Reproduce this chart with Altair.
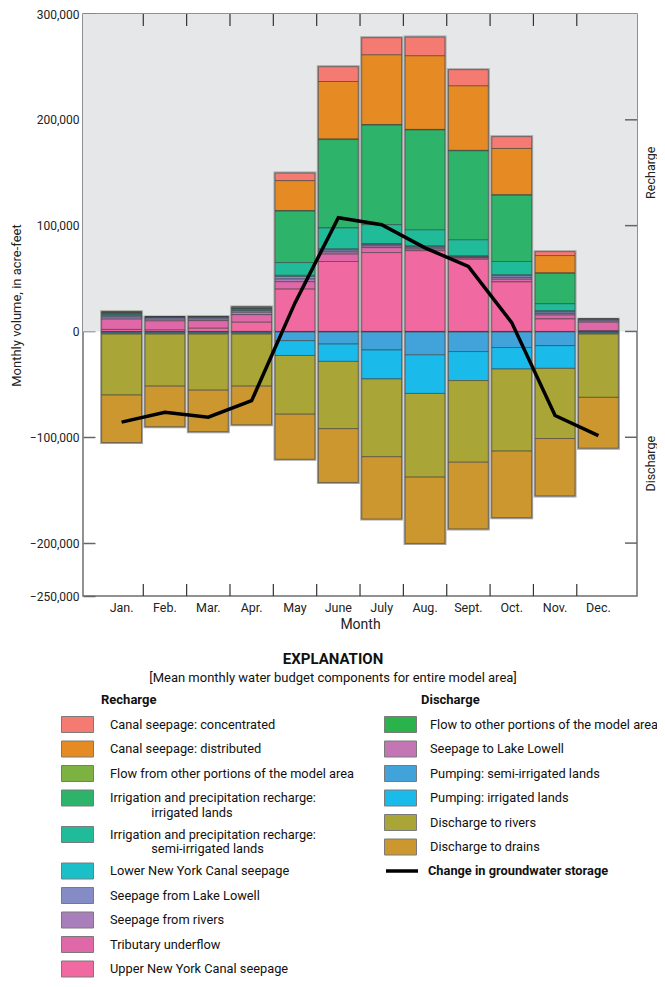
import altair as alt
import pandas as pd

FONT = "Roboto, Liberation Sans, sans-serif"

months = ["Jan.", "Feb.", "Mar.", "Apr.", "May", "June", "July", "Aug.", "Sept.", "Oct.", "Nov.", "Dec."]

recharge_names = [
    "Canal seepage: concentrated",
    "Canal seepage: distributed",
    "Flow from other portions of the model area",
    "Irrigation and precipitation recharge: irrigated lands",
    "Irrigation and precipitation recharge: semi-irrigated lands",
    "Lower New York Canal seepage",
    "Seepage from Lake Lowell",
    "Seepage from rivers",
    "Tributary underflow",
    "Upper New York Canal seepage",
]
recharge_colors = ["#f47a72", "#e68a23", "#7cb241", "#2eb46a", "#20bb98",
                   "#1bbfc7", "#858bc5", "#a97fbb", "#de68a8", "#f06aa1"]

discharge_names = [
    "Flow to other portions of the model area",
    "Seepage to Lake Lowell",
    "Pumping: semi-irrigated lands",
    "Pumping: irrigated lands",
    "Discharge to rivers",
    "Discharge to drains",
]
discharge_colors = ["#2bb34b", "#c476b4", "#42a2da", "#1abbea", "#a9a536", "#cc972e"]

line_name = "Change in groundwater storage"

# Monthly volumes, thousand acre-feet
canal_concentrated = [0.3, 0.0, 0.0, 0.1, 7.2, 14.0, 16.2, 17.7, 15.3, 11.2, 3.7, 0.0]
canal_distributed = [0.6, 0.0, 0.0, 1.0, 28.3, 54.4, 65.9, 69.6, 61.0, 43.8, 16.5, 0.0]
flow_from_other = [0.3, 0.1, 0.1, 0.2, 0.5, 0.5, 0.5, 0.5, 0.4, 0.4, 0.3, 0.1]
irrig_irrigated = [0.9, 0.2, 0.2, 0.6, 48.6, 83.5, 94.1, 94.4, 84.1, 62.6, 28.7, 0.1]
irrig_semi = [0.9, 0.2, 0.2, 0.8, 12.1, 19.9, 17.9, 15.1, 15.1, 12.7, 6.8, 0.1]
lower_ny_canal = [0.9, 0.2, 0.2, 0.8, 1.0, 1.0, 0.8, 0.8, 0.8, 0.8, 1.0, 0.1]
from_lake_lowell = [1.2, 1.4, 1.4, 1.5, 2.5, 1.8, 1.4, 1.1, 0.6, 1.7, 1.4, 1.2]
from_rivers = [1.9, 1.6, 1.5, 2.2, 2.5, 2.0, 1.6, 1.2, 0.7, 1.6, 1.5, 1.3]
tributary = [9.8, 8.5, 7.2, 7.2, 7.0, 7.0, 4.7, 1.5, 1.2, 2.5, 3.7, 7.9]
upper_ny_canal = [1.9, 1.5, 3.0, 8.7, 40.0, 66.1, 74.5, 76.3, 68.2, 46.8, 11.8, 0.8]

flow_to_other = [0.3, 0.3, 0.3, 0.3, 0.4, 0.4, 0.4, 0.4, 0.4, 0.4, 0.3, 0.3]
to_lake_lowell = [0.2, 0.2, 0.2, 0.2, 0.2, 0.2, 0.2, 0.2, 0.2, 0.2, 0.2, 0.2]
pump_semi = [1.0, 1.0, 1.0, 1.0, 8.1, 11.3, 16.9, 21.5, 18.4, 14.6, 12.9, 1.0]
pump_irrigated = [1.0, 1.0, 1.0, 1.0, 14.0, 16.4, 27.4, 36.5, 27.4, 20.3, 21.5, 1.0]
to_rivers = [57.6, 49.2, 53.0, 49.2, 55.5, 63.6, 73.5, 79.1, 77.2, 77.6, 66.3, 59.8]
to_drains = [44.9, 38.3, 39.2, 36.5, 42.6, 50.8, 58.9, 62.6, 63.0, 62.9, 54.2, 48.0]

storage_change = [-85.7, -76.3, -81.0, -65.4, 27.0, 107.5, 100.9, 79.0, 61.4, 8.4, -79.4, -98.4]

y_ticks = [300000, 200000, 100000, 0, -100000, -200000, -250000]
right_ticks = [200000, 100000, 0, -100000, -200000]
side_labels = ["Recharge", "Discharge"]
side_label_values = [150000, -125000]
legend_headers = ["Recharge", "Discharge"]

recharge_series = [canal_concentrated, canal_distributed, flow_from_other, irrig_irrigated,
                   irrig_semi, lower_ny_canal, from_lake_lowell, from_rivers, tributary,
                   upper_ny_canal]
discharge_series = [flow_to_other, to_lake_lowell, pump_semi, pump_irrigated, to_rivers, to_drains]

rows = []
n_r = len(recharge_names)
for i, (name, vals) in enumerate(zip(recharge_names, recharge_series)):
    for m, v in zip(months, vals):
        rows.append({"month": m, "component": name, "value": v * 1000, "order": n_r - i})
rech_df = pd.DataFrame(rows)

rows = []
for i, (name, vals) in enumerate(zip(discharge_names, discharge_series)):
    for m, v in zip(months, vals):
        rows.append({"month": m, "component": name, "value": -v * 1000, "order": i + 1})
dis_df = pd.DataFrame(rows)

line_df = pd.DataFrame({"month": months, "value": [v * 1000 for v in storage_change],
                        "series": line_name})

W, H = 554, 582

xscale = alt.Scale(domain=months, paddingInner=0.08, paddingOuter=0.43)
xaxis = alt.Axis(title="Month", domain=False, ticks=False, labelAngle=0, labelFontSize=12.5,
                 labelPadding=5, titleFontSize=14, titleFontWeight="normal", titlePadding=4,
                 labelColor="#222", titleColor="#222", grid=False)


def X(**kw):
    return alt.X("month:N", sort=months, scale=xscale, axis=xaxis, **kw)


yscale = alt.Scale(domain=[-250000, 300000], nice=False, zero=False)
yaxis = alt.Axis(values=y_ticks, format=",d", offset=-12, domain=False, tickSize=12,
                 tickColor="#666", tickWidth=1.5, labelPadding=4, labelFontSize=12,
                 labelColor="#222", title="Monthly volume, in acre-feet", titleFontSize=13,
                 titleFontWeight="normal", titleColor="#222", titlePadding=6, grid=False)


def Y(field, **kw):
    return alt.Y(field, scale=yscale, axis=yaxis, **kw)


rect_sym = "M-2,-1H2V1H-2Z"
indent = "\u200b" + "\u00a0" * 13
split_expr = "split(replace(datum.label, 'recharge: ', 'recharge:|" + indent + "'), '|')"

leg_common = dict(orient="none", direction="vertical", padding=0, title=None,
                  symbolType=rect_sym, symbolSize=256, symbolStrokeColor="#7a7a7a",
                  symbolStrokeWidth=1, symbolOpacity=1, labelFontSize=12.8, labelLimit=400,
                  labelColor="#111", rowPadding=3.5)
leg_r = alt.Legend(legendX=-14, legendY=702, labelOffset=24, labelExpr=split_expr, **leg_common)
leg_d = alt.Legend(legendX=309, legendY=702, labelOffset=21, **leg_common)
leg_l = alt.Legend(title=None, orient="none", legendX=301, legendY=839, padding=0,
                   symbolType="stroke", symbolSize=1024, symbolStrokeWidth=3.5,
                   labelOffset=8, labelFontSize=12.8, labelFontWeight="bold", labelLimit=400,
                   labelColor="#111")

bg = alt.Chart(pd.DataFrame({"lo": [0], "hi": [300000]})).mark_rect(color="#e6e7e8").encode(
    x=alt.value(0), x2=alt.value(W), y=Y("lo:Q"), y2="hi:Q")

outline_r = alt.Chart(rech_df).mark_bar(fillOpacity=0, stroke="#a3a3a3", strokeWidth=3).encode(
    x=X(), y=Y("sum(value):Q"))
outline_d = alt.Chart(dis_df).mark_bar(fillOpacity=0, stroke="#a3a3a3", strokeWidth=3).encode(
    x=X(), y=Y("sum(value):Q"))

bars_r = alt.Chart(rech_df).mark_bar(stroke="#3f3f3f", strokeWidth=0.6).encode(
    x=X(),
    y=Y("value:Q", stack="zero"),
    color=alt.Color("component:N", scale=alt.Scale(domain=recharge_names, range=recharge_colors),
                    legend=leg_r),
    order=alt.Order("order:Q", sort="ascending"))

bars_d = alt.Chart(dis_df).mark_bar(stroke="#3f3f3f", strokeWidth=0.6).encode(
    x=X(),
    y=Y("value:Q", stack="zero"),
    color=alt.Color("component:N", scale=alt.Scale(domain=discharge_names, range=discharge_colors),
                    legend=leg_d),
    order=alt.Order("order:Q", sort="ascending"))

line = alt.Chart(line_df).mark_line(strokeWidth=3.5).encode(
    x=X(), y=Y("value:Q"),
    stroke=alt.Stroke("series:N", scale=alt.Scale(domain=[line_name], range=["#000000"]),
                      legend=leg_l))

tick_df = pd.DataFrame({"month": months[1:]})
xt_bottom = alt.Chart(tick_df).mark_rule(color="#333", strokeWidth=1.2, xOffset=-1.7).encode(
    x=X(bandPosition=0), y=alt.value(H), y2=alt.value(H - 12))
xt_top = alt.Chart(tick_df).mark_rule(color="#333", strokeWidth=1.2, xOffset=-1.7).encode(
    x=X(bandPosition=0), y=alt.value(0), y2=alt.value(12))

rt = alt.Chart(pd.DataFrame({"v": right_ticks})).mark_rule(color="#666", strokeWidth=1.5).encode(
    y=Y("v:Q"), x=alt.value(W - 12), x2=alt.value(W))

side = alt.Chart(pd.DataFrame({"t": side_labels, "v": side_label_values})).mark_text(
    angle=270, fontSize=12.5, color="#222", align="center", baseline="middle").encode(
    text="t:N", y=Y("v:Q"), x=alt.value(W + 14))

expl = alt.Chart(pd.DataFrame({"t": ["EXPLANATION"]})).mark_text(
    fontSize=15, fontWeight="bold", color="#111", align="center", baseline="middle").encode(
    text="t:N", x=alt.value(250), y=alt.value(645))
sub = alt.Chart(pd.DataFrame({"t": ["[Mean monthly water budget components for entire model area]"]})).mark_text(
    fontSize=13, color="#111", align="center", baseline="middle").encode(
    text="t:N", x=alt.value(250), y=alt.value(664))
hdr_r = alt.Chart(pd.DataFrame({"t": [legend_headers[0]]})).mark_text(
    fontSize=13, fontWeight="bold", color="#111", align="left", baseline="middle").encode(
    text="t:N", x=alt.value(18), y=alt.value(686))
hdr_d = alt.Chart(pd.DataFrame({"t": [legend_headers[1]]})).mark_text(
    fontSize=13, fontWeight="bold", color="#111", align="left", baseline="middle").encode(
    text="t:N", x=alt.value(338), y=alt.value(686))

chart = alt.layer(bg, outline_r, outline_d, bars_r, bars_d, line, xt_bottom, xt_top, rt, side,
                  expl, sub, hdr_r, hdr_d).resolve_scale(color="independent").properties(
    width=W, height=H, autosize=alt.AutoSizeParams(type="none"),
    padding={"left": 75, "top": 6, "right": 20, "bottom": 383}
).configure_view(stroke="#6d6d6d", strokeWidth=1.5).configure_axis(
    labelFont=FONT, titleFont=FONT).configure_legend(
    labelFont=FONT, titleFont=FONT, titleColor="#111").configure_text(font=FONT)

chart.save("out.html", embed_options={"renderer": "svg", "actions": False})
